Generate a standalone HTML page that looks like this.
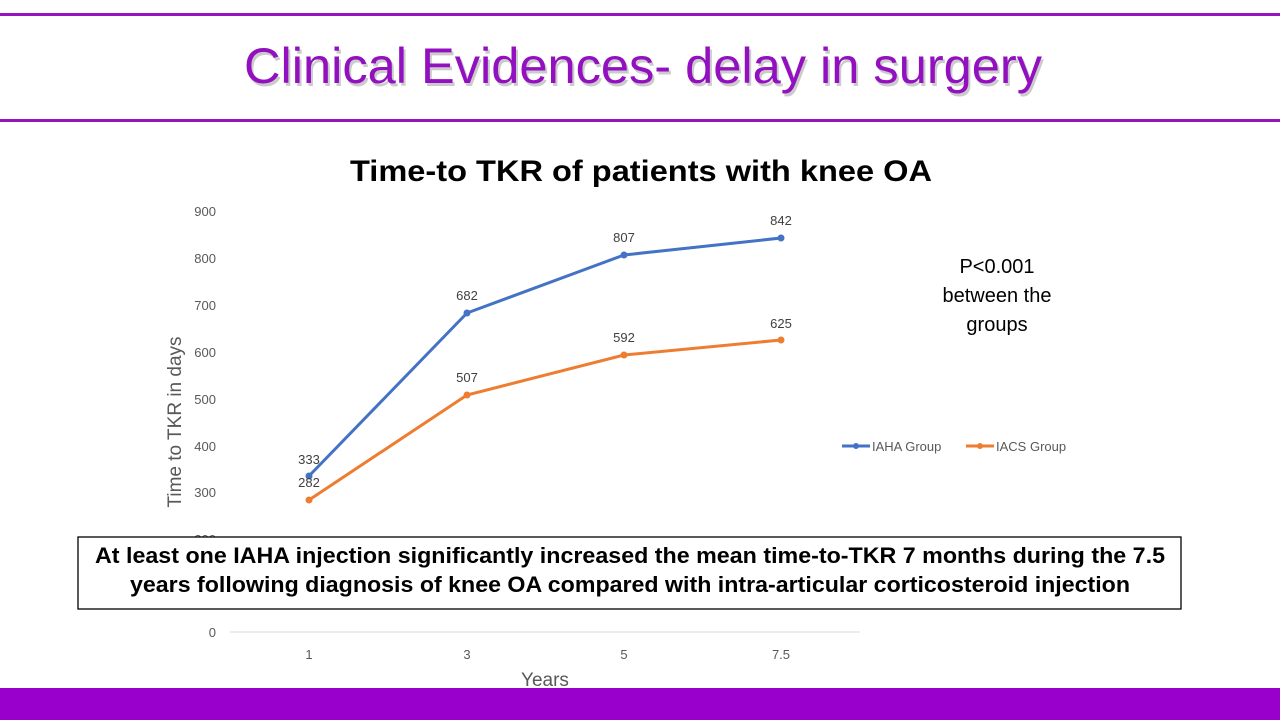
<!DOCTYPE html>
<html><head><meta charset="utf-8"><style>
body{margin:0;width:1280px;height:720px;background:#fff;overflow:hidden;font-family:"Liberation Sans",sans-serif}
</style></head><body>
<svg width="1280" height="720" xmlns="http://www.w3.org/2000/svg" font-family="Liberation Sans, DejaVu Sans, sans-serif">
<rect x="0" y="13" width="1280" height="3" fill="#9414be"/>
<rect x="0" y="119" width="1280" height="3" fill="#9414be"/>
<text x="643" y="83" text-anchor="middle" font-size="50" fill="#999" opacity="0.5" textLength="798" lengthAdjust="spacingAndGlyphs" transform="translate(2,3)">Clinical Evidences- delay in surgery</text>
<text x="643" y="83" text-anchor="middle" font-size="50" fill="#9210bf" textLength="798" lengthAdjust="spacingAndGlyphs">Clinical Evidences- delay in surgery</text>
<text x="641" y="181" text-anchor="middle" font-size="30" font-weight="bold" fill="#000" textLength="582" lengthAdjust="spacingAndGlyphs">Time-to TKR of patients with knee OA</text>
<g font-size="13" fill="#595959" text-anchor="end">
<text x="216" y="216">900</text><text x="216" y="263">800</text><text x="216" y="310">700</text>
<text x="216" y="357">600</text><text x="216" y="404">500</text><text x="216" y="451">400</text>
<text x="216" y="497">300</text><text x="216" y="544">200</text><text x="216" y="637">0</text>
</g>
<line x1="230" y1="632" x2="860" y2="632" stroke="#d9d9d9"/>
<g font-size="13" fill="#595959" text-anchor="middle">
<text x="309" y="659">1</text><text x="467" y="659">3</text><text x="624" y="659">5</text><text x="781" y="659">7.5</text>
</g>
<text x="545" y="686" font-size="19" fill="#595959" text-anchor="middle">Years</text>
<text transform="translate(181,422) rotate(-90)" font-size="19" fill="#595959" text-anchor="middle">Time to TKR in days</text>
<polyline points="309,476 467,313 624,255 781,238" fill="none" stroke="#4472c4" stroke-width="3"/>
<polyline points="309,500 467,395 624,355 781,340" fill="none" stroke="#ed7d31" stroke-width="3"/>
<g fill="#4472c4"><circle cx="309" cy="476" r="3.5"/><circle cx="467" cy="313" r="3.5"/><circle cx="624" cy="255" r="3.5"/><circle cx="781" cy="238" r="3.5"/></g>
<g fill="#ed7d31"><circle cx="309" cy="500" r="3.5"/><circle cx="467" cy="395" r="3.5"/><circle cx="624" cy="355" r="3.5"/><circle cx="781" cy="340" r="3.5"/></g>
<g font-size="13" fill="#404040" text-anchor="middle">
<text x="309" y="464">333</text><text x="467" y="300">682</text><text x="624" y="242">807</text><text x="781" y="225">842</text>
<text x="309" y="487">282</text><text x="467" y="382">507</text><text x="624" y="342">592</text><text x="781" y="328">625</text>
</g>
<line x1="842" y1="446" x2="870" y2="446" stroke="#4472c4" stroke-width="3"/><circle cx="856" cy="446" r="3" fill="#4472c4"/>
<text x="872" y="451" font-size="13" fill="#595959">IAHA Group</text>
<line x1="966" y1="446" x2="994" y2="446" stroke="#ed7d31" stroke-width="3"/><circle cx="980" cy="446" r="3" fill="#ed7d31"/>
<text x="996" y="451" font-size="13" fill="#595959">IACS Group</text>
<g font-size="20" fill="#000" text-anchor="middle">
<text x="997" y="273">P&lt;0.001</text><text x="997" y="302">between the</text><text x="997" y="331">groups</text>
</g>
<rect x="78" y="537" width="1103" height="72" fill="#fff" stroke="#000" stroke-width="1.3"/>
<g font-size="22" font-weight="bold" fill="#000" text-anchor="middle">
<text x="630" y="563" textLength="1070" lengthAdjust="spacingAndGlyphs">At least one IAHA injection significantly increased the mean time-to-TKR 7 months during the 7.5</text>
<text x="630" y="592" textLength="1000" lengthAdjust="spacingAndGlyphs">years following diagnosis of knee OA compared with intra-articular corticosteroid injection</text>
</g>
<rect x="0" y="688" width="1280" height="32" fill="#9900cc"/>
</svg>
</body></html>
